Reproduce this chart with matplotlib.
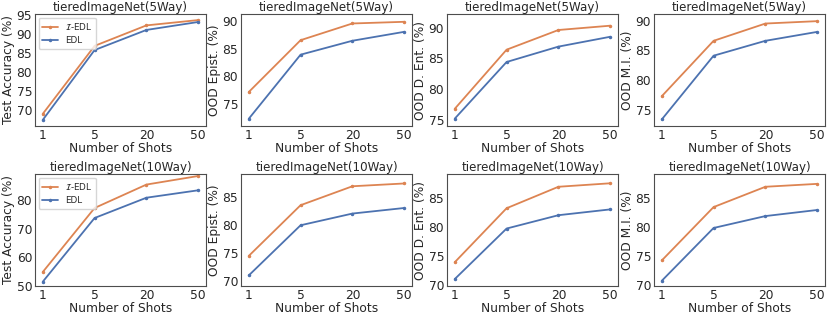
import numpy as np
import matplotlib
matplotlib.use("Agg")
import matplotlib.pyplot as plt
from matplotlib.ticker import MultipleLocator
import seaborn as sns

sns.set_style("white")
plt.rcParams['font.family'] = ['DejaVu Sans']

shots = ["1", "5", "20", "50"]

# 5-way rows
acc5_iedl = [69.0, 86.9, 92.3, 93.7]
acc5_edl = [67.4, 85.8, 91.1, 93.2]
epi5_iedl = [77.2, 86.5, 89.5, 89.8]
epi5_edl = [72.4, 83.9, 86.4, 88.0]
ent5_iedl = [76.8, 86.4, 89.6, 90.3]
ent5_edl = [75.2, 84.4, 86.9, 88.5]
mi5_iedl = [77.3, 86.6, 89.5, 89.9]
mi5_edl = [73.4, 84.1, 86.6, 88.1]

# 10-way rows
acc10_iedl = [54.8, 77.2, 85.4, 88.4]
acc10_edl = [51.4, 73.7, 80.8, 83.4]
epi10_iedl = [74.5, 83.6, 87.0, 87.5]
epi10_edl = [71.0, 80.0, 82.1, 83.1]
ent10_iedl = [74.0, 83.3, 87.0, 87.6]
ent10_edl = [71.1, 79.8, 82.1, 83.1]
mi10_iedl = [74.3, 83.5, 87.0, 87.5]
mi10_edl = [70.8, 79.9, 81.95, 83.0]

ylabels = ["Test Accuracy (%)", "OOD Epist. (%)", "OOD D. Ent. (%)", "OOD M.I. (%)"]
titles = ["tieredImageNet(5Way)", "tieredImageNet(10Way)"]
rows = [
    [(acc5_iedl, acc5_edl), (epi5_iedl, epi5_edl), (ent5_iedl, ent5_edl), (mi5_iedl, mi5_edl)],
    [(acc10_iedl, acc10_edl), (epi10_iedl, epi10_edl), (ent10_iedl, ent10_edl), (mi10_iedl, mi10_edl)],
]
ylims = [
    [(65.8, 95.3), (71.1, 91.2), (74.0, 92.2), (72.3, 91.1)],
    [(49.9, 89.1), (69.1, 89.2), (69.9, 89.2), (69.9, 89.2)],
]
ysteps = [[5, 5, 5, 5], [10, 5, 5, 5]]

orange = "#dd8452"
blue = "#4c72b0"

fig = plt.figure(figsize=(8.3, 3.17), dpi=100)
W, H = 830, 317
lefts = [35, 241, 447, 654]
tops = [14, 174]
aw, ah = 171, 112

x = np.arange(len(shots))
for r in range(2):
    for c in range(4):
        ax = fig.add_axes([lefts[c] / W, 1 - (tops[r] + ah) / H, aw / W, ah / H])
        iedl, edl = rows[r][c]
        ax.plot(x, iedl, color=orange, marker='.', markersize=3, lw=1.3, label=r'$\mathcal{I}$-EDL')
        ax.plot(x, edl, color=blue, marker='.', markersize=3, lw=1.3, label='EDL')
        ax.set_xticks(x)
        ax.set_xticklabels(shots)
        ax.set_ylim(*ylims[r][c])
        ax.yaxis.set_major_locator(MultipleLocator(ysteps[r][c]))
        ax.tick_params(labelsize=8.8, pad=2, length=0)
        ax.set_xlabel("Number of Shots", fontsize=8.8, labelpad=0.5)
        ax.set_ylabel(ylabels[c], fontsize=8.8, labelpad=1)
        ax.set_title(titles[r], fontsize=8.6, pad=2)
        for s in ax.spines.values():
            s.set_color('0.3')
        if c == 0:
            ax.legend(loc='upper left', fontsize=6.3, frameon=True,
                      handlelength=1.8, borderaxespad=0.4)

fig.savefig("out.png", dpi=100)
